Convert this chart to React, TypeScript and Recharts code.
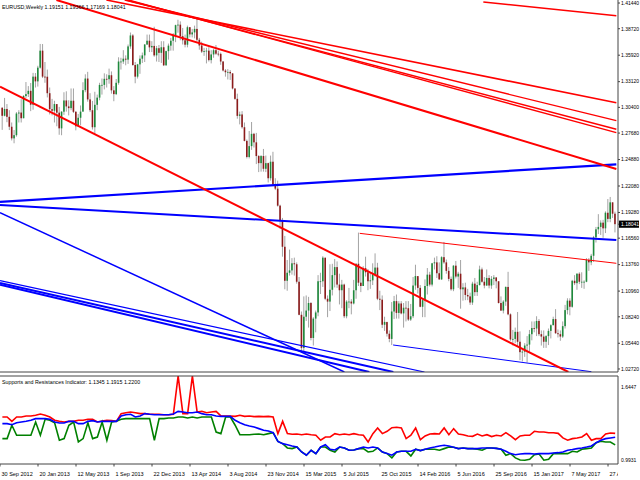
import React from "react";
import { ComposedChart, LineChart, Bar, Line, XAxis, YAxis, ReferenceLine } from "recharts";

const FONT = '"Liberation Sans", Arial, sans-serif';

// weekly EURUSD bars, first bar = week of 7 Oct 2012 (bar index 1)
const firstOpen = 1.3036;

const closes = [
  1.2951, 1.3023, 1.2940, 1.2835, 1.2712, 1.2746, 1.2975, 1.2985, 1.2925, 1.3160,
  1.3180, 1.3215, 1.3068, 1.3365, 1.3315, 1.3460, 1.3640, 1.3365, 1.3364, 1.3190,
  1.3021, 1.3004, 1.3075, 1.2984, 1.2818, 1.2994, 1.3113, 1.3050, 1.3032, 1.3110,
  1.2993, 1.2840, 1.2930, 1.2995, 1.3222, 1.3345, 1.3124, 1.3010, 1.2830, 1.3067,
  1.3143, 1.3277, 1.3278, 1.3342, 1.3338, 1.3380, 1.3220, 1.3180, 1.3300, 1.3525,
  1.3525, 1.3555, 1.3545, 1.3685, 1.3801, 1.3488, 1.3365, 1.3495, 1.3555, 1.3590,
  1.3705, 1.3745, 1.3675, 1.3690, 1.3590, 1.3666, 1.3617, 1.3676, 1.3485, 1.3635,
  1.3693, 1.3745, 1.3803, 1.3910, 1.3915, 1.3793, 1.3750, 1.3703, 1.3888, 1.3812,
  1.3833, 1.3870, 1.3755, 1.3695, 1.3630, 1.3635, 1.3640, 1.3540, 1.3600, 1.3645,
  1.3608, 1.3606, 1.3525, 1.3430, 1.3412, 1.3415, 1.3400, 1.3240, 1.3130, 1.2950,
  1.2965, 1.2830, 1.2685, 1.2515, 1.2630, 1.2760, 1.2670, 1.2525, 1.2450, 1.2525,
  1.2390, 1.2450, 1.2290, 1.2465, 1.2225, 1.2180, 1.2000, 1.1840, 1.1565, 1.1205,
  1.1290, 1.1315, 1.1390, 1.1380, 1.1195, 1.0845, 1.0495, 1.0825, 1.0890, 1.0970,
  1.0600, 1.0805, 1.0870, 1.1200, 1.1200, 1.1450, 1.1015, 1.0985, 1.1110, 1.1265,
  1.1350, 1.1165, 1.1105, 1.1165, 1.0830, 1.0985, 1.0985, 1.0965, 1.1105, 1.1385,
  1.1185, 1.1150, 1.1338, 1.1295, 1.1200, 1.1210, 1.1275, 1.1345, 1.1015, 1.1005,
  1.0740, 1.0770, 1.0645, 1.0590, 1.0880, 1.0990, 1.0865, 1.0965, 1.0860, 1.0920,
  1.0915, 1.0795, 1.0830, 1.1155, 1.1255, 1.1130, 1.0930, 1.1000, 1.1150, 1.1270,
  1.1165, 1.1390, 1.1400, 1.1285, 1.1220, 1.1455, 1.1400, 1.1310, 1.1225, 1.1115,
  1.1365, 1.1250, 1.1280, 1.1115, 1.1135, 1.1055, 1.1040, 1.0975, 1.1175, 1.1085,
  1.1160, 1.1325, 1.1195, 1.1155, 1.1235, 1.1155, 1.1225, 1.1240, 1.1200, 1.0970,
  1.0890, 1.0985, 1.1140, 1.0850, 1.0585, 1.0590, 1.0665, 1.0560, 1.0450, 1.0455,
  1.0520, 1.0530, 1.0640, 1.0705, 1.0700, 1.0780, 1.0640, 1.0615, 1.0560, 1.0620,
  1.0675, 1.0735, 1.0800, 1.0650, 1.0640, 1.0615, 1.0725, 1.0895, 1.0995, 1.0930,
  1.1205, 1.1180, 1.1280, 1.1195, 1.1195, 1.1195, 1.1425, 1.1400, 1.1470, 1.1665,
  1.1750, 1.1775, 1.1820, 1.1760, 1.1925, 1.1860, 1.2035, 1.1915, 1.18041,
];

const highs = [
  1.3040, 1.3140, 1.3075, 1.3010, 1.2880, 1.2800, 1.2990, 1.3010, 1.3127, 1.3170,
  1.3308, 1.3265, 1.3298, 1.3405, 1.3403, 1.3480, 1.3711, 1.3710, 1.3520, 1.3440,
  1.3250, 1.3130, 1.3110, 1.3010, 1.3045, 1.3000, 1.3200, 1.3210, 1.3115, 1.3240,
  1.3240, 1.3000, 1.2970, 1.3060, 1.3306, 1.3390, 1.3416, 1.3190, 1.3108, 1.3205,
  1.3175, 1.3300, 1.3345, 1.3400, 1.3390, 1.3450, 1.3420, 1.3265, 1.3340, 1.3570,
  1.3565, 1.3645, 1.3590, 1.3705, 1.3832, 1.3815, 1.3520, 1.3500, 1.3590, 1.3620,
  1.3710, 1.3810, 1.3810, 1.3740, 1.3893, 1.3690, 1.3700, 1.3740, 1.3740, 1.3640,
  1.3715, 1.3775, 1.3825, 1.3915, 1.3967, 1.3950, 1.3880, 1.3810, 1.3905, 1.3890,
  1.3870, 1.3905, 1.3993, 1.3775, 1.3735, 1.3670, 1.3670, 1.3677, 1.3645, 1.3660,
  1.3700, 1.3640, 1.3620, 1.3530, 1.3445, 1.3445, 1.3435, 1.3400, 1.3240, 1.3185,
  1.2995, 1.3000, 1.2880, 1.2700, 1.2790, 1.2885, 1.2770, 1.2770, 1.2535, 1.2535,
  1.2600, 1.2530, 1.2455, 1.2530, 1.2570, 1.2290, 1.2265, 1.2010, 1.1870, 1.1680,
  1.1425, 1.1535, 1.1445, 1.1450, 1.1400, 1.1245, 1.0880, 1.1040, 1.1050, 1.1035,
  1.0980, 1.0820, 1.0890, 1.1265, 1.1290, 1.1465, 1.1445, 1.1050, 1.1380, 1.1385,
  1.1435, 1.1410, 1.1280, 1.1215, 1.1175, 1.1000, 1.1130, 1.1010, 1.1215, 1.1390,
  1.1715, 1.1330, 1.1360, 1.1460, 1.1330, 1.1290, 1.1390, 1.1495, 1.1395, 1.1100,
  1.1050, 1.0825, 1.0760, 1.0680, 1.0980, 1.1045, 1.1060, 1.0990, 1.0990, 1.0970,
  1.0990, 1.0990, 1.0960, 1.1245, 1.1375, 1.1240, 1.1160, 1.1010, 1.1220, 1.1340,
  1.1300, 1.1395, 1.1450, 1.1465, 1.1400, 1.1465, 1.1616, 1.1430, 1.1350, 1.1250,
  1.1370, 1.1415, 1.1300, 1.1425, 1.1180, 1.1185, 1.1120, 1.1080, 1.1195, 1.1235,
  1.1195, 1.1365, 1.1345, 1.1245, 1.1325, 1.1265, 1.1255, 1.1265, 1.1245, 1.1200,
  1.1040, 1.1000, 1.1145, 1.1300, 1.0860, 1.0685, 1.0710, 1.0875, 1.0670, 1.0480,
  1.0545, 1.0620, 1.0685, 1.0775, 1.0775, 1.0830, 1.0800, 1.0680, 1.0680, 1.0630,
  1.0700, 1.0745, 1.0825, 1.0905, 1.0690, 1.0680, 1.0775, 1.0950, 1.1020, 1.1020,
  1.1215, 1.1265, 1.1285, 1.1295, 1.1295, 1.1210, 1.1445, 1.1445, 1.1490, 1.1680,
  1.1775, 1.1910, 1.1845, 1.1850, 1.1940, 1.2070, 1.2092, 1.2035, 1.19366,
];

const lows = [
  1.2802, 1.2945, 1.2883, 1.2800, 1.2690, 1.2660, 1.2730, 1.2880, 1.2880, 1.2925,
  1.3140, 1.3150, 1.3000, 1.3015, 1.3250, 1.3260, 1.3450, 1.3350, 1.3300, 1.3145,
  1.2965, 1.2955, 1.2880, 1.2840, 1.2750, 1.2745, 1.2960, 1.2995, 1.2955, 1.3010,
  1.2980, 1.2797, 1.2840, 1.2850, 1.2995, 1.3200, 1.3100, 1.2990, 1.2805, 1.2755,
  1.3010, 1.3115, 1.3175, 1.3230, 1.3250, 1.3290, 1.3185, 1.3105, 1.3170, 1.3280,
  1.3440, 1.3500, 1.3485, 1.3500, 1.3660, 1.3480, 1.3295, 1.3345, 1.3395, 1.3510,
  1.3520, 1.3700, 1.3625, 1.3625, 1.3575, 1.3525, 1.3520, 1.3510, 1.3477, 1.3480,
  1.3545, 1.3640, 1.3640, 1.3730, 1.3830, 1.3750, 1.3705, 1.3675, 1.3675, 1.3780,
  1.3780, 1.3770, 1.3740, 1.3650, 1.3615, 1.3585, 1.3505, 1.3525, 1.3505, 1.3565,
  1.3595, 1.3580, 1.3490, 1.3420, 1.3365, 1.3335, 1.3330, 1.3230, 1.3120, 1.2920,
  1.2860, 1.2815, 1.2680, 1.2500, 1.2500, 1.2590, 1.2615, 1.2440, 1.2355, 1.2360,
  1.2360, 1.2355, 1.2245, 1.2265, 1.2220, 1.2165, 1.1990, 1.1755, 1.1460, 1.1115,
  1.1100, 1.1260, 1.1270, 1.1260, 1.1175, 1.0840, 1.0460, 1.0462, 1.0780, 1.0710,
  1.0575, 1.0520, 1.0660, 1.0830, 1.1065, 1.1140, 1.1000, 1.0820, 1.0885, 1.1050,
  1.1135, 1.1130, 1.0955, 1.0915, 1.0810, 1.0808, 1.0915, 1.0850, 1.0955, 1.1015,
  1.1150, 1.1085, 1.1150, 1.1250, 1.1105, 1.1120, 1.1160, 1.1250, 1.1000, 1.0895,
  1.0705, 1.0675, 1.0615, 1.0555, 1.0525, 1.0800, 1.0805, 1.0805, 1.0850, 1.0710,
  1.0775, 1.0780, 1.0780, 1.0810, 1.1110, 1.1070, 1.0925, 1.0820, 1.0820, 1.1060,
  1.1145, 1.1145, 1.1325, 1.1235, 1.1215, 1.1215, 1.1385, 1.1280, 1.1200, 1.1100,
  1.1095, 1.1230, 1.1130, 1.0910, 1.0995, 1.1000, 1.1000, 1.0950, 1.0950, 1.1045,
  1.1045, 1.1155, 1.1185, 1.1125, 1.1150, 1.1125, 1.1120, 1.1160, 1.1125, 1.0965,
  1.0885, 1.0860, 1.0940, 1.0840, 1.0570, 1.0520, 1.0545, 1.0505, 1.0365, 1.0352,
  1.0400, 1.0340, 1.0455, 1.0575, 1.0660, 1.0620, 1.0620, 1.0520, 1.0495, 1.0495,
  1.0525, 1.0595, 1.0735, 1.0645, 1.0605, 1.0570, 1.0600, 1.0700, 1.0850, 1.0840,
  1.0920, 1.1160, 1.1110, 1.1170, 1.1130, 1.1120, 1.1190, 1.1310, 1.1370, 1.1405,
  1.1610, 1.1700, 1.1690, 1.1660, 1.1710, 1.1825, 1.1825, 1.1870, 1.17169,
];

const priceTicks = [
  1.0272, 1.0544, 1.0824, 1.1096, 1.1376, 1.1656, 1.1928, 1.2208,
  1.2488, 1.2768, 1.304, 1.3312, 1.3592, 1.3872, 1.4144,
];

// one date label every 16 bars, starting at bar 0 (30 Sep 2012)
const dateLabels = [
  "30 Sep 2012", "20 Jan 2013", "12 May 2013", "1 Sep 2013", "22 Dec 2013",
  "13 Apr 2014", "3 Aug 2014", "23 Nov 2014", "15 Mar 2015", "5 Jul 2015",
  "25 Oct 2015", "14 Feb 2016", "5 Jun 2016", "25 Sep 2016", "15 Jan 2017",
  "7 May 2017", "27 Aug 2017",
];

// Supports and Resistances indicator, sampled on odd bars 1,3,...,259
const redLevel = [
  1.341, 1.341, 1.309, 1.341, 1.341, 1.349, 1.349, 1.354, 1.363, 1.354,
  1.341, 1.317, 1.309, 1.304, 1.309, 1.309, 1.317, 1.317, 1.324, 1.324,
  1.304, 1.312, 1.317, 1.314, 1.309, 1.366, 1.373, 1.378, 1.373, 1.366,
  1.366, 1.361, 1.361, 1.361, 1.358, 1.358, 1.361, 1.6447, 1.366, 1.366,
  1.6447, 1.378, 1.383, 1.373,
  1.378, 1.383, 1.349, 1.349, 1.349, 1.346, 1.354, 1.346, 1.349, 1.344,
  1.346, 1.344, 1.346, 1.341, 1.218, 1.309, 1.218, 1.213, 1.215, 1.210,
  1.215, 1.210, 1.206, 1.169, 1.193, 1.193, 1.218, 1.210, 1.215, 1.210,
  1.218, 1.210, 1.206, 1.156, 1.218, 1.260, 1.218, 1.235, 1.262, 1.265,
  1.260, 1.181, 1.206,
  1.260, 1.173, 1.201, 1.215, 1.218, 1.215, 1.260, 1.210, 1.255, 1.215,
  1.210, 1.201, 1.198, 1.215, 1.201, 1.210, 1.196, 1.206, 1.201, 1.225,
  1.201, 1.173, 1.201, 1.206, 1.206, 1.235, 1.230, 1.230, 1.225, 1.225,
  1.220, 1.186, 1.169, 1.181, 1.186, 1.193, 1.218, 1.169, 1.181, 1.181,
  1.215, 1.223, 1.2200,
];

const blueLevel = [
  1.292, 1.292, 1.284, 1.299, 1.304, 1.309, 1.317, 1.329, 1.329, 1.329,
  1.324, 1.304, 1.297, 1.297, 1.309, 1.309, 1.292, 1.292, 1.309, 1.314,
  1.304, 1.309, 1.309, 1.309, 1.309, 1.349, 1.358, 1.361, 1.341, 1.349,
  1.366, 1.361, 1.358, 1.358, 1.358, 1.358, 1.363, 1.383, 1.378, 1.373,
  1.373, 1.378, 1.366, 1.358,
  1.358, 1.349, 1.346, 1.346, 1.346, 1.317, 1.299, 1.284, 1.275, 1.267,
  1.255, 1.243, 1.238, 1.225, 1.160, 1.144, 1.136, 1.127, 1.119, 1.082,
  1.058, 1.095, 1.070, 1.119, 1.136, 1.102, 1.097, 1.119, 1.112, 1.095,
  1.097, 1.107, 1.119, 1.112, 1.119, 1.112, 1.082, 1.070, 1.058, 1.082,
  1.087, 1.087, 1.087,
  1.102, 1.092, 1.102, 1.112, 1.119, 1.127, 1.132, 1.127, 1.117, 1.107,
  1.112, 1.107, 1.107, 1.107, 1.112, 1.112, 1.112, 1.109, 1.102, 1.087,
  1.070, 1.062, 1.067, 1.070, 1.070, 1.067, 1.070, 1.070, 1.070, 1.075,
  1.077, 1.082, 1.095, 1.100, 1.107, 1.112, 1.119, 1.127, 1.151, 1.169,
  1.181, 1.186, 1.1915,
];

const greenLevel = [
  1.181, 1.181, 1.280, 1.206, 1.206, 1.206, 1.206, 1.304, 1.206, 1.324,
  1.317, 1.299, 1.169, 1.181, 1.280, 1.304, 1.156, 1.181, 1.299, 1.181,
  1.193, 1.304, 1.169, 1.304, 1.309, 1.324, 1.329, 1.329, 1.329, 1.329,
  1.329, 1.329, 1.169, 1.329, 1.329, 1.334, 1.334, 1.341, 1.341, 1.334,
  1.341, 1.334, 1.341, 1.341,
  1.341, 1.230, 1.218, 1.341, 1.341, 1.280, 1.210, 1.210, 1.210, 1.213,
  1.215, 1.210, 1.218, 1.225, 1.160, 1.144, 1.112, 1.107, 1.119, 1.082,
  1.058, 1.095, 1.070, 1.119, 1.119, 1.095, 1.082, 1.119, 1.112, 1.095,
  1.097, 1.107, 1.107, 1.082, 1.087, 1.112, 1.082, 1.070, 1.038, 1.082,
  1.087, 1.087, 1.053,
  1.102, 1.092, 1.102, 1.102, 1.102, 1.095, 1.107, 1.119, 1.117, 1.107,
  1.112, 1.107, 1.107, 1.102, 1.095, 1.112, 1.112, 1.109, 1.102, 1.058,
  1.070, 1.038, 1.023, 1.021, 1.028, 1.062, 1.067, 1.021, 1.028, 1.070,
  1.070, 1.070, 1.070, 1.087, 1.082, 1.102, 1.107, 1.112, 1.151, 1.161,
  1.156, 1.156, 1.1345,
];

// trend lines drawn on the chart: [bar, price, bar, price]
const redTrend = [
  [203.5, 1.4155, 259.5, 1.401],
  [23.75, 1.4176, 259.5, 1.2388],
  [44.8, 1.4176, 259.5, 1.3089],
  [52.5, 1.4176, 259.5, 1.2899],
  [53.2, 1.4176, 259.5, 1.2808],
  [54.1, 1.4176, 259.5, 1.2772],
  [0, 1.326, 239.3, 1.024],
  [151.45, 1.1707, 259.5, 1.139],
];

const blueTrend = [
  [0, 1.2041, 259.5, 1.2437],
  [0, 1.2008, 259.5, 1.1637],
  [0, 1.1926, 145.0, 1.024],
  [0, 1.1206, 178.7, 1.024],
  [0, 1.1182, 165.6, 1.024],
  [0, 1.1164, 155.5, 1.024],
  [165.5, 1.0526, 249, 1.0243],
];

const redWidth = [1.6, 2, 1.6, 1.4, 1.4, 1.4, 2, 1];
const blueWidth = [2.2, 2, 1.5, 1.2, 2, 2, 1];

const candles = closes.map((c, k) => ({
  i: k + 1,
  open: k === 0 ? firstOpen : closes[k - 1],
  close: c,
  high: highs[k],
  low: lows[k],
  range: [lows[k], highs[k]],
}));

const levels = redLevel.map((r, k) => ({
  i: 1 + 2 * k,
  red: r,
  blue: blueLevel[k],
  green: greenLevel[k],
}));

const lastClose = closes[closes.length - 1];
const dateTicks = dateLabels.map((_, k) => k * 16);
const xDomain: [number, number] = [0, 260.2];

function Candle(props: any) {
  const { x, y, width, height, payload } = props;
  if (x == null || !payload) return null;
  const top = height >= 0 ? y : y + height;
  const h = Math.abs(height);
  const span = payload.high - payload.low;
  const k = span > 0 ? h / span : 0;
  const cx = x + width / 2;
  const oy = top + (payload.high - payload.open) * k;
  const cy = top + (payload.high - payload.close) * k;
  const up = payload.close >= payload.open;
  return (
    <g>
      <line x1={cx} x2={cx} y1={top} y2={top + h} stroke="#a3a3a3" strokeWidth={1} />
      <rect
        x={cx - 0.8}
        y={Math.min(oy, cy)}
        width={1.6}
        height={Math.max(Math.abs(cy - oy), 0.8)}
        fill={up ? "#1e8a3c" : "#8c1b1b"}
      />
    </g>
  );
}

function PriceTick(props: any) {
  const { x, y, payload } = props;
  const v = payload.value;
  if (v === lastClose) {
    return (
      <g>
        <rect x={x - 2} y={y - 3.6} width={20} height={7.2} fill="#000" />
        <text x={x} y={y} dy={1.8} fontSize={5} fill="#fff" fontFamily={FONT}>
          {v.toFixed(5)}
        </text>
      </g>
    );
  }
  return (
    <text x={x} y={y} dy={1.8} fontSize={5} fill="#000" fontFamily={FONT}>
      {v.toFixed(5)}
    </text>
  );
}

function LevelTick(props: any) {
  const { x, y, payload } = props;
  const top = payload.value > 1.3;
  return (
    <text x={x} y={top ? y + 13 : y - 2} fontSize={5} fill="#000" fontFamily={FONT}>
      {payload.value.toFixed(4)}
    </text>
  );
}

function DateTick(props: any) {
  const { x, y, payload } = props;
  const label = dateLabels[Math.round(payload.value / 16)];
  return (
    <g>
      <defs>
        <clipPath id={"dclip" + payload.value}>
          <rect x={0} y={0} width={618} height={200} />
        </clipPath>
      </defs>
      <line x1={x} x2={x} y1={y} y2={y + 2.5} stroke="#444" strokeWidth={1} />
      <text
        x={x + 1.5}
        y={y + 11.5}
        fontSize={5.5}
        fill="#000"
        fontFamily={FONT}
        clipPath={"url(#dclip" + payload.value + ")"}
      >
        {label}
      </text>
    </g>
  );
}

export default function App() {
  return (
    <div
      style={{
        position: "fixed",
        left: 0,
        top: 0,
        width: 640,
        height: 480,
        background: "#fff",
        overflow: "hidden",
      }}
    >
      <ComposedChart width={640} height={373} data={candles} margin={{ top: 0, right: 0, bottom: 0, left: 0 }}>
        <XAxis
          dataKey="i"
          type="number"
          domain={xDomain}
          allowDataOverflow
          height={1}
          tick={false}
          tickLine={false}
          axisLine={{ stroke: "#444" }}
        />
        <YAxis
          orientation="right"
          type="number"
          width={22}
          domain={[1.024, 1.4176]}
          allowDataOverflow
          ticks={[...priceTicks, lastClose]}
          interval={0}
          tickSize={2}
          tickMargin={1}
          axisLine={{ stroke: "#444" }}
          tickLine={{ stroke: "#444" }}
          tick={(p: any) => <PriceTick {...p} />}
        />
        <Bar dataKey="range" barSize={2} isAnimationActive={false} shape={(p: any) => <Candle {...p} />} />
        {blueTrend.map((t, k) => (
          <ReferenceLine
            key={"b" + k}
            segment={[{ x: t[0], y: t[1] }, { x: t[2], y: t[3] }]}
            stroke="#0000ff"
            strokeWidth={blueWidth[k]}
            ifOverflow="hidden"
          />
        ))}
        {redTrend.map((t, k) => (
          <ReferenceLine
            key={"r" + k}
            segment={[{ x: t[0], y: t[1] }, { x: t[2], y: t[3] }]}
            stroke="#ff0000"
            strokeWidth={redWidth[k]}
            ifOverflow="hidden"
          />
        ))}
      </ComposedChart>
      <LineChart width={640} height={107} data={levels} margin={{ top: 0, right: 0, bottom: 0, left: 0 }}>
        <XAxis
          xAxisId="top"
          orientation="top"
          dataKey="i"
          type="number"
          domain={xDomain}
          allowDataOverflow
          height={3}
          tick={false}
          tickLine={false}
          axisLine={{ stroke: "#444" }}
        />
        <XAxis
          xAxisId="bottom"
          dataKey="i"
          type="number"
          domain={xDomain}
          allowDataOverflow
          height={16}
          ticks={dateTicks}
          interval={0}
          tickSize={0}
          tickMargin={0}
          tickLine={false}
          axisLine={{ stroke: "#444" }}
          tick={(p: any) => <DateTick {...p} />}
        />
        <YAxis
          orientation="right"
          type="number"
          width={22}
          domain={[0.9931, 1.6447]}
          allowDataOverflow
          ticks={[1.6447, 0.9931]}
          interval={0}
          tickSize={2}
          tickMargin={1}
          tickLine={false}
          axisLine={{ stroke: "#444" }}
          tick={(p: any) => <LevelTick {...p} />}
        />
        <Line xAxisId="bottom" type="linear" dataKey="red" stroke="#ff0000" strokeWidth={1.6} dot={false} isAnimationActive={false} />
        <Line xAxisId="bottom" type="linear" dataKey="green" stroke="#008000" strokeWidth={1.6} dot={false} isAnimationActive={false} />
        <Line xAxisId="bottom" type="linear" dataKey="blue" stroke="#0000ff" strokeWidth={1.6} dot={false} isAnimationActive={false} />
      </LineChart>
      <svg
        width={640}
        height={480}
        style={{ position: "absolute", left: 0, top: 0, pointerEvents: "none" }}
      >
        <text x={2} y={9} fontSize={5.3} fill="#000" fontFamily={FONT}>
          EURUSD,Weekly  1.19151 1.19366 1.17169 1.18041
        </text>
        <text x={2} y={384} fontSize={5.3} fill="#000" fontFamily={FONT}>
          Supports and Resistances Indicator:  1.1345 1.1915 1.2200
        </text>
      </svg>
    </div>
  );
}
